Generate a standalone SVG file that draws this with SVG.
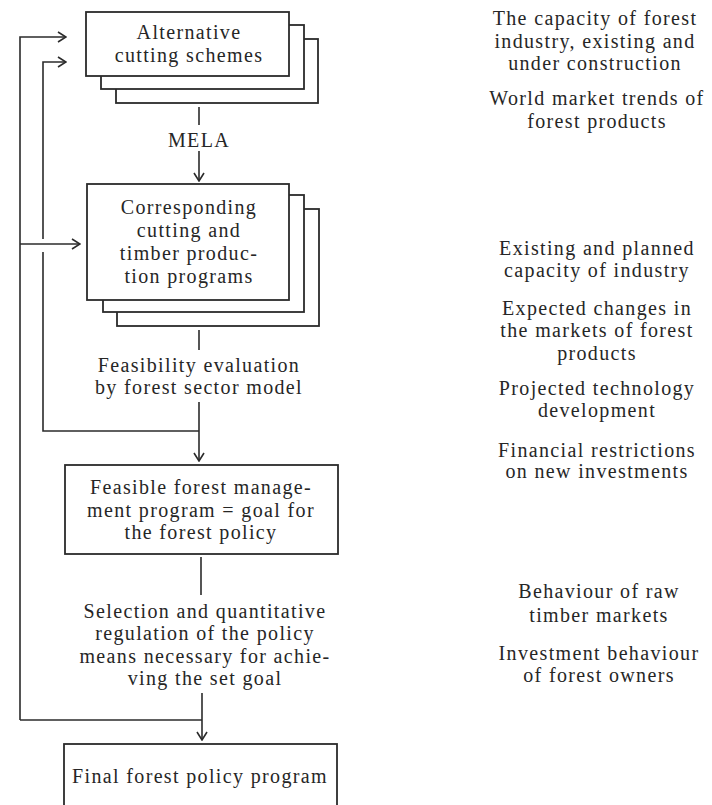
<svg xmlns="http://www.w3.org/2000/svg" width="712" height="805" viewBox="0 0 712 805">
<defs>
<marker id="arr" viewBox="0 0 10 12" refX="9" refY="6" markerWidth="10" markerHeight="12" markerUnits="userSpaceOnUse" orient="auto">
<path d="M1,1 L9,6 L1,11" fill="none" stroke="#2b2b2b" stroke-width="1.6"/>
</marker>
<style>
.box{fill:#fff;stroke:#2b2b2b;stroke-width:1.8}
.ln{fill:none;stroke:#2b2b2b;stroke-width:1.6}
text{font-family:"Liberation Serif","Times New Roman",serif;font-size:20px;fill:#262626;text-anchor:middle;letter-spacing:1.35px}
</style>
</defs>
<rect width="712" height="805" fill="#fff"/>

<g id="connectors">
<path class="ln" d="M20,720 L20,37 L66,37" marker-end="url(#arr)"/>
<path class="ln" d="M43,239 L43,62 L66,62" marker-end="url(#arr)"/>
<path class="ln" d="M20,244 L80,244" marker-end="url(#arr)"/>
<path class="ln" d="M43,252 L43,431 L199,431"/>
<path class="ln" d="M199,107 L199,125"/>
<path class="ln" d="M199,151 L199,181" marker-end="url(#arr)"/>
<path class="ln" d="M199,330 L199,350"/>
<path class="ln" d="M199,402 L199,461" marker-end="url(#arr)"/>
<path class="ln" d="M201,557 L201,595"/>
<path class="ln" d="M20,720 L202,720"/>
<path class="ln" d="M202,693 L202,740" marker-end="url(#arr)"/>
</g>

<g id="alternative-cutting-schemes">
<rect class="box" x="116" y="39" width="202" height="64"/>
<rect class="box" x="101" y="25" width="203" height="64"/>
<rect class="box" x="86" y="12" width="203" height="64"/>
<text x="189" y="39">Alternative</text>
<text x="189" y="62">cutting schemes</text>
</g>

<g id="mela-label">
<text x="199" y="147">MELA</text>
</g>

<g id="corresponding-programs">
<rect class="box" x="117" y="209" width="202" height="117"/>
<rect class="box" x="103" y="195" width="201" height="117"/>
<rect class="box" x="87" y="184" width="202" height="116"/>
<text x="189" y="214">Corresponding</text>
<text x="189" y="237">cutting and</text>
<text x="189" y="260">timber produc-</text>
<text x="189" y="283">tion programs</text>
</g>

<g id="feasibility-label">
<text x="199" y="372">Feasibility evaluation</text>
<text x="199" y="394">by forest sector model</text>
</g>

<g id="feasible-program">
<rect class="box" x="65" y="465" width="273" height="89"/>
<text x="201" y="494">Feasible forest manage-</text>
<text x="201" y="517">ment program = goal for</text>
<text x="201" y="539">the forest policy</text>
</g>

<g id="selection-label">
<text x="205" y="618">Selection and quantitative</text>
<text x="205" y="640">regulation of the policy</text>
<text x="205" y="663">means necessary for achie-</text>
<text x="205" y="685">ving the set goal</text>
</g>

<g id="final-program">
<rect class="box" x="64" y="744" width="273" height="80"/>
<text x="200" y="783">Final forest policy program</text>
</g>

<g id="right-notes">
<text x="595" y="25">The capacity of forest</text>
<text x="595" y="48">industry, existing and</text>
<text x="595" y="70">under construction</text>
<text x="597" y="105">World market trends of</text>
<text x="597" y="128">forest products</text>
<text x="597" y="255">Existing and planned</text>
<text x="597" y="277">capacity of industry</text>
<text x="597" y="315">Expected changes in</text>
<text x="597" y="337">the markets of forest</text>
<text x="597" y="360">products</text>
<text x="597" y="395">Projected technology</text>
<text x="597" y="417">development</text>
<text x="597" y="457">Financial restrictions</text>
<text x="597" y="478">on new investments</text>
<text x="599" y="598">Behaviour of raw</text>
<text x="599" y="622">timber markets</text>
<text x="599" y="660">Investment behaviour</text>
<text x="599" y="682">of forest owners</text>
</g>
</svg>
